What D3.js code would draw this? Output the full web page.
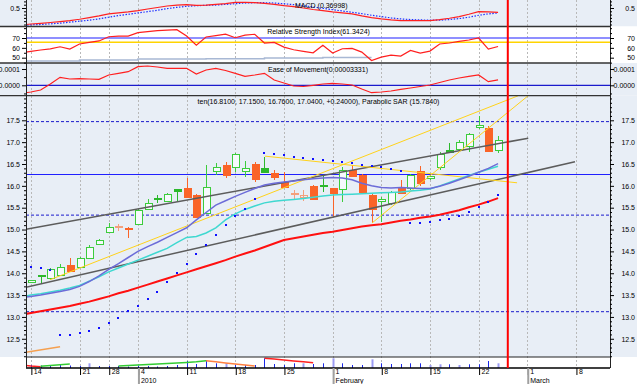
<!DOCTYPE html>
<html><head><meta charset="utf-8">
<script src="https://cdn.jsdelivr.net/npm/d3@7/dist/d3.min.js"></script>
<style>
html,body{margin:0;padding:0;background:#fff;overflow:hidden}
svg{display:block}
</style></head>
<body><svg id="chart" width="637" height="384"></svg>
<script>
// ---------------- DATA ----------------
const symbol = "ten";
const tradingDays = [
 "2009-12-14","2009-12-15","2009-12-16","2009-12-17","2009-12-18",
 "2009-12-21","2009-12-22","2009-12-23",
 "2009-12-28","2009-12-29","2009-12-30",
 "2010-01-04","2010-01-05","2010-01-06","2010-01-07","2010-01-08",
 "2010-01-11","2010-01-12","2010-01-13","2010-01-14","2010-01-15",
 "2010-01-18","2010-01-19","2010-01-20","2010-01-21","2010-01-22",
 "2010-01-25","2010-01-26","2010-01-27","2010-01-28","2010-01-29",
 "2010-02-01","2010-02-02","2010-02-03","2010-02-04","2010-02-05",
 "2010-02-08","2010-02-09","2010-02-10","2010-02-11","2010-02-12",
 "2010-02-15","2010-02-16","2010-02-17","2010-02-18","2010-02-19",
 "2010-02-22","2010-02-23","2010-02-24"];
const futureDays = ["2010-02-25","2010-02-26","2010-03-01","2010-03-02","2010-03-03","2010-03-04","2010-03-05","2010-03-08","2010-03-09","2010-03-10","2010-03-11"];
const cursorDay = "2010-02-25";

const openP  = [13.79,13.94,13.89,13.97,14.18,14.14,14.34,14.66,14.95,15.07,15.04,15.12,15.47,15.70,15.66,15.89,15.94,15.80,15.37,16.35,16.48,16.44,16.34,16.51,16.32,16.29,16.09,15.84,15.80,16.00,16.00,15.94,15.93,16.36,16.25,15.79,15.66,15.60,15.96,15.94,16.34,16.17,16.44,16.78,16.84,16.91,17.34,17.32,16.81];
const highP  = [13.85,13.96,14.11,14.21,14.34,14.38,14.64,14.79,15.14,15.12,15.05,15.48,15.70,15.79,15.83,15.93,16.17,15.81,16.48,16.52,16.55,16.76,16.57,16.54,16.67,16.36,16.32,15.90,15.90,16.02,16.22,15.96,16.42,16.47,16.27,15.81,15.75,15.89,16.13,16.27,16.45,16.25,16.77,16.99,17.04,17.21,17.60,17.37,17.15];
const lowP   = [13.77,13.76,13.87,13.96,14.04,14.12,14.33,14.65,14.94,14.97,14.81,15.10,15.45,15.60,15.63,15.66,15.73,15.26,15.35,16.24,16.17,16.32,16.21,16.09,16.30,16.14,15.94,15.67,15.66,15.67,15.85,15.29,15.64,16.20,15.84,15.14,15.18,15.56,15.81,15.90,16.00,16.14,16.36,16.76,16.80,16.78,17.30,16.78,16.76];
const closeP = [13.84,13.95,14.09,14.14,14.06,14.36,14.60,14.77,15.06,15.05,15.01,15.44,15.61,15.72,15.81,15.92,15.75,15.28,15.98,16.42,16.25,16.72,16.40,16.16,16.40,16.21,15.98,15.82,15.74,15.71,16.03,15.83,16.36,16.22,15.87,15.48,15.71,15.86,15.83,16.25,16.06,16.22,16.74,16.82,17.01,17.18,17.39,16.80,17.04];
// u = hollow up, d = filled down, g = filled green, s = light doji
const candleKind = ["u","g","u","u","d","u","u","u","u","s","d","u","u","g","u","g","d","d","u","u","d","u","u","d","g","d","d","s","s","d","g","d","u","d","d","d","u","u","d","u","d","u","u","g","u","u","u","d","u"];

// overlay series: first value belongs to the session before the first visible one (2009-12-11)
const maSlow = [13.05,13.09,13.13,13.17,13.21,13.25,13.30,13.35,13.41,13.47,13.54,13.60,13.67,13.74,13.81,13.88,13.95,14.02,14.09,14.16,14.23,14.30,14.38,14.45,14.52,14.60,14.68,14.76,14.80,14.84,14.88,14.92,14.95,14.99,15.03,15.07,15.10,15.12,15.16,15.20,15.23,15.27,15.30,15.34,15.39,15.44,15.51,15.57,15.64,15.72];
const maMid  = [13.44,13.47,13.50,13.54,13.58,13.63,13.70,13.81,13.94,14.09,14.22,14.36,14.50,14.61,14.71,14.82,14.93,15.04,15.22,15.39,15.56,15.66,15.76,15.85,15.94,16.02,16.06,16.09,16.11,16.14,16.16,16.18,16.19,16.18,16.14,16.06,16.00,15.96,15.95,15.96,15.95,15.94,15.94,15.99,16.06,16.14,16.22,16.31,16.40,16.51];
const maFast = [13.46,13.50,13.53,13.57,13.61,13.66,13.72,13.82,13.92,14.03,14.12,14.21,14.30,14.39,14.48,14.57,14.70,14.82,14.84,14.92,15.04,15.22,15.36,15.46,15.54,15.61,15.65,15.67,15.69,15.71,15.74,15.77,15.79,15.80,15.81,15.82,15.83,15.84,15.85,15.86,15.88,15.90,15.93,16.00,16.08,16.16,16.24,16.31,16.38,16.45];
const sar = [14.14,14.12,14.08,12.58,12.59,12.63,12.67,12.75,12.85,12.98,13.13,13.24,13.40,13.57,13.79,14.00,14.21,14.44,14.64,14.87,15.10,15.31,15.48,15.70,16.76,16.73,16.70,16.67,16.64,16.61,16.59,16.57,16.54,16.52,16.48,16.45,16.42,16.38,16.35,15.14,15.15,15.18,15.22,15.25,15.30,15.41,15.52,15.64,15.784];

const macd       = [-0.015,0.015,0.036,0.06,0.09,0.12,0.16,0.21,0.26,0.32,0.35,0.38,0.42,0.47,0.515,0.56,0.59,0.60,0.58,0.59,0.61,0.63,0.67,0.67,0.66,0.64,0.61,0.57,0.54,0.50,0.455,0.42,0.38,0.35,0.32,0.26,0.21,0.17,0.14,0.12,0.115,0.115,0.12,0.15,0.19,0.24,0.31,0.39,0.385,0.36998];
const macdSignal = [-0.03,-0.01,0.0,0.02,0.04,0.07,0.10,0.13,0.17,0.22,0.27,0.31,0.35,0.39,0.43,0.48,0.52,0.55,0.57,0.58,0.59,0.61,0.63,0.65,0.66,0.66,0.65,0.63,0.60,0.57,0.53,0.49,0.45,0.41,0.37,0.33,0.28,0.24,0.20,0.17,0.15,0.14,0.13,0.13,0.15,0.18,0.22,0.28,0.32,0.35];
const rsi = [55.0,56.5,57.8,59.0,61.1,58.8,63.9,65.5,67.0,71.3,72.0,72.0,75.4,76.5,77.5,78.0,78.5,72.0,62.8,71.0,72.5,74.0,70.3,73.0,73.8,64.9,65.6,60.8,58.1,56.5,55.0,62.6,54.7,59.1,59.5,55.7,47.2,50.6,52.7,51.6,57.4,54.7,56.7,63.9,64.9,66.6,68.0,70.0,58.8,61.3424];
const rsiBase = [46.6,46.6,46.6,46.6,46.6,46.6,47.6,47.6,47.6,47.6,47.6,47.6,48.6,48.6,48.6,48.6,48.6,48.6,48.6,48.9,48.9,48.9,48.9,48.9,48.9,49.6,49.6,49.6,49.6,49.6,49.6,50.3,50.3,50.3,50.3,50.3,50.3];
const eom = [-0.0000503,-0.0000411,-0.0000288,0.0000080,0.0000491,0.0000387,0.0000405,0.0000387,0.0000368,0.0000632,0.0000736,0.0000834,0.0001141,0.0001184,0.0001123,0.0001043,0.0001043,0.0001043,0.0000693,0.0000939,0.0001043,0.0000908,0.0000736,0.0000552,0.0000632,0.0000736,0.0000325,0.0000141,-0.0000043,-0.0000074,0.0,0.0000080,0.0000123,0.0000080,0.0000018,-0.0000227,-0.0000454,-0.0000411,-0.0000350,-0.0000245,-0.0000166,-0.0000074,0.0000018,0.0000172,0.0000325,0.0000448,0.0000552,0.0000632,0.0000221,0.00003331];

const volume = [300,250,200,300,250,200,470,200,200,200,150,200,200,150,200,300,700,400,800,470,470,300,300,300,970,400,300,470,470,400,470,970,470,300,300,870,470,400,400,470,470,300,370,370,300,370,370,700,470];
const volumeLight = [0,0,0,0,0,0,1,0,0,0,0,0,0,0,0,0,0,0,0,0,1,0,0,0,0,0,0,0,1,0,0,1,0,0,0,1,0,0,0,0,0,1,1,0,1,0,0,0,1];
const volTrend = [
  {start:-1, dir:"down", vals:[320,200,130]},
  {start:1,  dir:"up",   vals:[180,260,330,400]},
  {start:9,  dir:"up",   vals:[200,250,300,350,400,450,500,560,620,730]},
  {start:18, dir:"fade", vals:[730,620,500,400,300,200]},
  {start:24, dir:"down", vals:[970,900,800,700,620,530]}];

// drawn lines in (session index, price)
const channelLines = [[[-0.5,15.006],[51.1,17.09]], [[-0.5,13.68],[55.9,16.55]]];
const fanLines = [[[1.95,13.85],[50.05,18.06]], [[24.05,16.68],[49.95,16.07]], [[35.05,15.15],[51.08,18.06]]];
const orangeLine = [[-0.5,12.19],[3,12.32]];
const dashedLevels = [17.47,15.33,13.12];
const solidLevels = [16.26];
const rsiLevelBlue = 70, rsiLevelYellow = 65.6;

const mainTicks = [12.5,13.0,13.5,14.0,14.5,15.0,15.5,16.0,16.5,17.0,17.5];
const rsiTicks = [50,60,70];
const macdTicks = [0.5];
const eomTicks = [0.0000,0.0001];

// ---------------- DRAW ----------------
const FONT = '"Liberation Sans Narrow","Arial Narrow","Liberation Sans",Arial,sans-serif';
const W = 637, H = 384, L = 26, R = 610;
const BG = "#e8eef6";
const P = {macd:[0,26.5], rsi:[26.5,63], eom:[63,95.7], main:[95.7,357], vol:[357,368]};

const allDays = tradingDays.concat(futureDays);
const parse = d3.timeParse("%Y-%m-%d");
const dates = allDays.map(parse);
const nT = tradingDays.length;

const x = d3.scaleLinear().domain([-0.5, allDays.length - 0.5]).range([L, R]);
const cx = i => Math.round(x(i)) + 0.5;
const yMacd = d3.scaleLinear().domain([-0.0606, 0.7424]).range([26.5, 0]);
const yRsi  = d3.scaleLinear().domain([44.62, 81.68]).range([63, 26.5]);
const yEom  = d3.scaleLinear().domain([-0.0000638, 0.0001368]).range([95.7, 63]);
const yMain = d3.scaleLinear().domain([12.083, 18.063]).range([357, 95.7]);
const yVol  = d3.scaleLinear().domain([0, 1100]).range([368, 357]);

const svg = d3.select("#chart").attr("font-family", FONT).attr("font-size", 7);

[["macd",BG],["rsi","#ffffff"],["eom",BG],["main",BG]].forEach(([k,c]) =>
  svg.append("rect").attr("x",0).attr("y",P[k][0]).attr("width",W).attr("height",P[k][1]-P[k][0]).attr("fill",c));

const defs = svg.append("defs");
Object.entries(P).forEach(([k,[t,b]]) =>
  defs.append("clipPath").attr("id","clip-"+k).append("rect").attr("x",L).attr("y",t).attr("width",R-L).attr("height",b-t));

// week grid
const weekIdx = dates.map((d,i)=>[d,i]).filter(([d]) => d.getDay() === 1).map(([,i]) => i);
svg.append("g").selectAll("line").data(weekIdx).join("line")
  .attr("x1",cx).attr("x2",cx).attr("y1",0).attr("y2",368)
  .attr("stroke","#b8b8b8").attr("stroke-width",1).attr("stroke-dasharray","2,2");

const series = (arr, start) => arr.map((v,k) => [start + k, v]);
const lineOf = ys => d3.line().x(d => x(d[0])).y(d => ys(d[1]));
function hline(g, ys, v, color, w, dash) {
  g.append("line").attr("x1",L).attr("x2",R).attr("y1",ys(v)).attr("y2",ys(v))
   .attr("stroke",color).attr("stroke-width",w).attr("stroke-dasharray",dash||null);
}

// ---- MACD panel
const gM = svg.append("g").attr("clip-path","url(#clip-macd)");
gM.append("path").attr("d", lineOf(yMacd)(series(macdSignal,-1))).attr("fill","none").attr("stroke","#2030ff").attr("stroke-width",1.2).attr("stroke-dasharray","1.5,1.5");
gM.append("path").attr("d", lineOf(yMacd)(series(macd,-1))).attr("fill","none").attr("stroke","#ff2020").attr("stroke-width",1.2);

// ---- RSI panel
const gR = svg.append("g").attr("clip-path","url(#clip-rsi)");
hline(gR, yRsi, rsiLevelBlue, "#6a6aff", 1.5);
hline(gR, yRsi, rsiLevelYellow, "#ffd400", 1.5);
gR.append("path").attr("d", lineOf(yRsi).curve(d3.curveStepAfter)(series(rsiBase,-1))).attr("fill","none").attr("stroke","#a8b8d4").attr("stroke-width",1.5);
gR.append("path").attr("d", lineOf(yRsi)(series(rsi,-1))).attr("fill","none").attr("stroke","#ff2020").attr("stroke-width",1.2);

// ---- EoM panel
const gE = svg.append("g").attr("clip-path","url(#clip-eom)");
hline(gE, yEom, 0, "#1a1acc", 1.3);
gE.append("path").attr("d", lineOf(yEom)(series(eom,-1))).attr("fill","none").attr("stroke","#ff2020").attr("stroke-width",1.2);

// ---- Main panel
const gP = svg.append("g").attr("clip-path","url(#clip-main)");
dashedLevels.forEach(v => hline(gP, yMain, v, "#1a1acc", 1, "3,2"));
solidLevels.forEach(v => hline(gP, yMain, v, "#2020ff", 1.2));

const kindColor = {u:"#3ccc3c", g:"#2cb82c", d:"#fa6428", s:"#f4a07c"};
const cg = gP.append("g").attr("shape-rendering","crispEdges");
d3.range(nT).forEach(i => {
  const k = candleKind[i], col = kindColor[k];
  const xc = cx(i);
  cg.append("line").attr("x1",xc).attr("x2",xc).attr("y1",yMain(highP[i])).attr("y2",yMain(lowP[i])).attr("stroke",col);
  const top = Math.round(yMain(Math.max(openP[i],closeP[i])));
  const bot = Math.round(yMain(Math.min(openP[i],closeP[i])));
  const h = Math.max(1, bot - top);
  const filled = (k === "d" || k === "g");
  cg.append("rect").attr("x",xc-3.5).attr("y",top+0.5).attr("width",7).attr("height",h)
    .attr("fill", filled ? col : (k === "u" ? "#f6f9fc" : "none")).attr("stroke",col);
});

channelLines.forEach(l => gP.append("path").attr("d", lineOf(yMain)(l)).attr("stroke","#5c5c5c").attr("stroke-width",1.5).attr("fill","none"));
fanLines.forEach(l => gP.append("path").attr("d", lineOf(yMain)(l)).attr("stroke","#ffd21a").attr("stroke-width",1).attr("fill","none"));
gP.append("path").attr("d", lineOf(yMain)(orangeLine)).attr("stroke","#f5a050").attr("stroke-width",1.5).attr("fill","none");
gP.append("path").attr("d", lineOf(yMain)(series(maFast,-1))).attr("stroke","#3fd8d0").attr("stroke-width",1.5).attr("fill","none");
gP.append("path").attr("d", lineOf(yMain)(series(maMid,-1))).attr("stroke","#6c6cd8").attr("stroke-width",1.5).attr("fill","none");
gP.append("path").attr("d", lineOf(yMain)(series(maSlow,-1))).attr("stroke","#ff1010").attr("stroke-width",2).attr("fill","none");
gP.append("g").selectAll("rect").data(sar).join("rect")
  .attr("x",(d,i)=>Math.round(x(i))-1).attr("y",d=>Math.round(yMain(d))-1).attr("width",2).attr("height",2).attr("fill","#1010ff");

// ---- Volume panel
const gV = svg.append("g").attr("clip-path","url(#clip-vol)");
gV.append("g").selectAll("line").data(volume).join("line")
  .attr("x1",(d,i)=>cx(i)).attr("x2",(d,i)=>cx(i)).attr("y1",yVol(0)).attr("y2",d=>yVol(d))
  .attr("stroke",(d,i)=>volumeLight[i] ? "#9c9cf4" : "#1a28e8").attr("stroke-width",(d,i)=>volumeLight[i] ? 2 : 1);
const trendColor = {down:"#ff2020", up:"#33cc33", fade:"#ff8040"};
volTrend.forEach(s => gV.append("path").attr("d", lineOf(yVol)(series(s.vals, s.start))).attr("fill","none").attr("stroke",trendColor[s.dir]).attr("stroke-width",1.5));

// ---- frame
[26.5,63,95.7].forEach(y => svg.append("line").attr("x1",0).attr("x2",R).attr("y1",y).attr("y2",y).attr("stroke","#333").attr("stroke-width",1.3));
svg.append("line").attr("x1",L).attr("x2",R).attr("y1",357).attr("y2",357).attr("stroke","#222").attr("stroke-width",1);
svg.append("line").attr("x1",L).attr("x2",R).attr("y1",368).attr("y2",368).attr("stroke","#000").attr("stroke-width",1.5);
svg.append("line").attr("x1",L+0.5).attr("x2",L+0.5).attr("y1",0).attr("y2",368).attr("stroke","#222");
svg.append("line").attr("x1",R+0.5).attr("x2",R+0.5).attr("y1",0).attr("y2",368).attr("stroke","#222");

// ---- y axes
function yAxes(scale, major, minor, fmt) {
  const gl = svg.append("g").attr("transform",`translate(${L},0)`)
    .call(d3.axisLeft(scale).tickValues(major).tickSize(4).tickPadding(2).tickFormat(fmt));
  const glm = svg.append("g").attr("transform",`translate(${L},0)`)
    .call(d3.axisLeft(scale).tickValues(minor).tickSize(2).tickFormat(""));
  const gr = svg.append("g").attr("transform",`translate(${R},0)`)
    .call(d3.axisRight(scale).tickValues(major).tickSize(4).tickFormat(fmt));
  gr.selectAll("text").attr("text-anchor","end").attr("x",25);
  const grm = svg.append("g").attr("transform",`translate(${R},0)`)
    .call(d3.axisRight(scale).tickValues(minor).tickSize(2).tickFormat(""));
  [gl,glm,gr,grm].forEach(g => { g.select(".domain").remove(); g.attr("font-family",FONT).attr("font-size",7); g.selectAll("text").attr("fill","#000"); });
}
const mainMinor = d3.range(121, 181).map(v => v/10).filter(v => !mainTicks.some(t => Math.abs(t-v) < 1e-6));
yAxes(yMain, mainTicks, mainMinor, d3.format(".1f"));
yAxes(yRsi, rsiTicks, [45,55,65,75,80], d3.format("d"));
yAxes(yMacd, macdTicks, [0.0,0.1,0.2,0.3,0.4,0.6,0.7], d3.format(".1f"));
yAxes(yEom, eomTicks, [-0.00005,0.00005], d3.format(".4f"));

// ---- x axis
const gx = svg.append("g").attr("transform","translate(0,368)")
  .call(d3.axisBottom(x).tickValues(weekIdx).tickSize(7).tickFormat(i => dates[i].getDate()));
gx.select(".domain").remove();
gx.selectAll(".tick line").attr("transform","translate(0.5,0)");
gx.selectAll("text").attr("text-anchor","start").attr("x",2.5).attr("y",1.3).attr("fill","#000");
gx.attr("font-family",FONT).attr("font-size",7);

const monthIdx = dates.map((d,i)=>i).filter(i => i > 0 && dates[i].getMonth() !== dates[i-1].getMonth());
const monthFmt = i => dates[i].getMonth() === 0 ? d3.timeFormat("%Y")(dates[i]) : d3.timeFormat("%B")(dates[i]);
const gmx = svg.append("g").attr("transform","translate(0,368)")
  .call(d3.axisBottom(x).tickValues(monthIdx).tickSize(16).tickFormat(monthFmt));
gmx.select(".domain").remove();
gmx.selectAll(".tick line").attr("stroke","#a0a0a0").attr("stroke-width",2).attr("transform","translate(0.5,0)");
gmx.selectAll("text").attr("text-anchor","start").attr("x",2.5).attr("y",10.3).attr("fill","#000");
gmx.attr("font-family",FONT).attr("font-size",7);

// ---- cursor
const ci = allDays.indexOf(cursorDay);
svg.append("line").attr("x1",x(ci)).attr("x2",x(ci)).attr("y1",0).attr("y2",368).attr("stroke","#ff0000").attr("stroke-width",2);

// ---- titles
const last = nT - 1;
const f4 = d3.format(".4f");
svg.append("text").attr("x",295).attr("y",8.3).text(`MACD (${d3.format(".5f")(macd[macd.length-1])})`);
svg.append("text").attr("x",318.5).attr("y",34).attr("text-anchor","middle").text(`Relative Strength Index(${f4(rsi[rsi.length-1])})`);
svg.append("text").attr("x",318).attr("y",71.7).attr("text-anchor","middle").text(`Ease of Movement(${d3.format(".8f")(eom[eom.length-1])})`);
svg.append("text").attr("x",318.5).attr("y",103.5).attr("text-anchor","middle")
  .text(`${symbol}(${f4(openP[last])}, ${f4(highP[last])}, ${f4(lowP[last])}, ${f4(closeP[last])}, ${d3.format("+.5f")(closeP[last]-closeP[last-1])}), Parabolic SAR (${f4(sar[last])})`);
</script></body></html>
